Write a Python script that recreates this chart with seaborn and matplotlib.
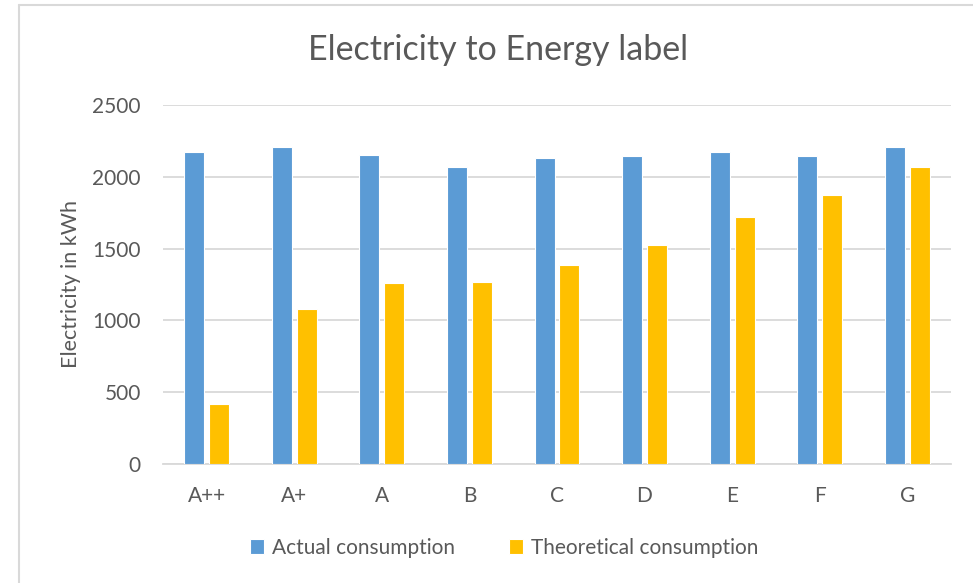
import matplotlib
matplotlib.use("Agg")
import matplotlib.pyplot as plt
from matplotlib.lines import Line2D
import seaborn as sns
import pandas as pd

# Energy labels and yearly electricity use per label (kWh)
labels = ["A++", "A+", "A", "B", "C", "D", "E", "F", "G"]
actual_consumption = [2170, 2205, 2150, 2070, 2133, 2143, 2171, 2143, 2205]
theoretical_consumption = [415, 1077, 1258, 1265, 1384, 1523, 1720, 1873, 2070]
series_names = ["Actual consumption", "Theoretical consumption"]
y_ticks = [0, 500, 1000, 1500, 2000, 2500]

df = pd.DataFrame({
    "label": labels * 2,
    "series": [series_names[0]] * len(labels) + [series_names[1]] * len(labels),
    "kwh": actual_consumption + theoretical_consumption,
})

sns.set_theme(style="white")
plt.rcParams["font.family"] = ["Lato", "DejaVu Sans"]
text_color = "#595959"
grid_color = "#D9D9D9"

fig = plt.figure(figsize=(9.73, 5.83), dpi=100)
ax = fig.add_axes([163 / 973, 1 - 464 / 583, (951 - 163) / 973, (464 - 105) / 583])

sns.barplot(
    data=df, x="label", y="kwh", hue="series", order=labels,
    hue_order=series_names, palette=["#5B9BD5", "#FFC000"], saturation=1,
    width=0.57, gap=0.2, edgecolor="white", linewidth=0.8,
    errorbar=None, ax=ax, zorder=3,
)

ax.set_ylim(0, 2500)
ax.set_xlim(-0.5, len(labels) - 0.5)
ax.set_yticks(y_ticks)
ax.set_yticklabels([str(t) for t in y_ticks])
ax.yaxis.grid(True, color=grid_color, linewidth=1.3, zorder=0)
ax.set_axisbelow(True)
for side in ["top", "right", "left"]:
    ax.spines[side].set_visible(False)
ax.spines["bottom"].set_color(grid_color)
ax.spines["bottom"].set_linewidth(1.3)
ax.tick_params(axis="both", length=0, colors=text_color, labelsize=15)
ax.tick_params(axis="y", pad=16)
ax.tick_params(axis="x", pad=16)

ax.set_xlabel("")
ax.set_ylabel("Electricity in kWh", color=text_color, fontsize=15.5, labelpad=8)

fig.text(0.512, 1 - 50 / 583, "Electricity to Energy label", ha="center",
         va="center", fontsize=24.5, color=text_color)

handles, lbls = ax.get_legend_handles_labels()
ax.legend_.remove()
fig.legend(handles, lbls, loc="center", bbox_to_anchor=(0.518, 1 - 548 / 583),
           ncol=2, frameon=False, fontsize=15, labelcolor=text_color,
           handlelength=0.7, handleheight=0.7, handletextpad=0.35,
           columnspacing=2.6)

# Chart frame (top and left edges)
fig.add_artist(Line2D([19 / 973, 1.0], [1 - 5 / 583, 1 - 5 / 583],
                      transform=fig.transFigure, color=grid_color, linewidth=1.5))
fig.add_artist(Line2D([19 / 973, 19 / 973], [0.0, 1 - 5 / 583],
                      transform=fig.transFigure, color=grid_color, linewidth=1.5))

fig.savefig("out.png", dpi=100)
